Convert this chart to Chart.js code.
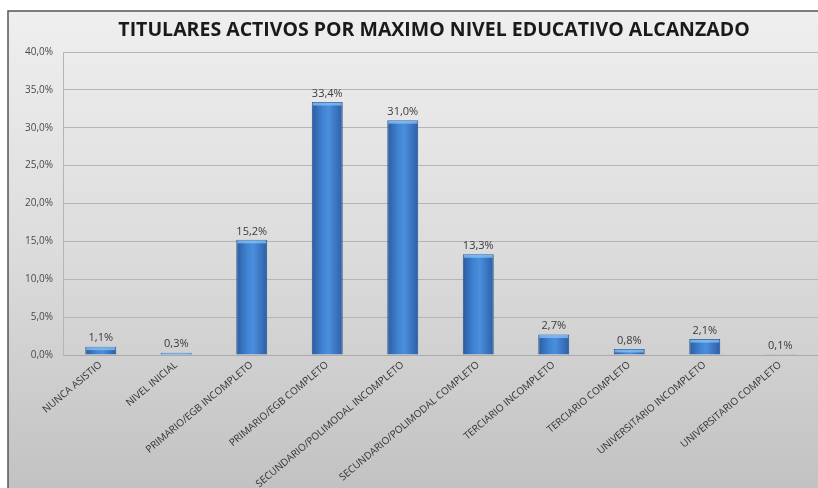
<!DOCTYPE html>
<html>
<head>
<meta charset="utf-8">
<script src="https://cdn.jsdelivr.net/npm/chart.js@4.4.1/dist/chart.umd.min.js"></script>
<style>
  html, body { margin: 0; padding: 0; background: #ffffff; }
  #wrap { width: 818px; height: 488px; }
</style>
</head>
<body>
<div id="wrap"><canvas id="nivel-chart" width="818" height="488"></canvas></div>
<script>
// Chart data
const chartTitle = 'TITULARES ACTIVOS POR MAXIMO NIVEL EDUCATIVO ALCANZADO';
const categories = ['NUNCA ASISTIO', 'NIVEL INICIAL', 'PRIMARIO/EGB INCOMPLETO', 'PRIMARIO/EGB COMPLETO',
  'SECUNDARIO/POLIMODAL INCOMPLETO', 'SECUNDARIO/POLIMODAL COMPLETO', 'TERCIARIO INCOMPLETO',
  'TERCIARIO COMPLETO', 'UNIVERSITARIO INCOMPLETO', 'UNIVERSITARIO COMPLETO'];
const percentages = [1.1, 0.3, 15.2, 33.4, 31.0, 13.3, 2.7, 0.8, 2.1, 0.1];
const yTicks = [0, 5, 10, 15, 20, 25, 30, 35, 40];

function fmtPct(v) {
  return v.toFixed(1).replace('.', ',') + '%';
}

// background panel + border, like the excel chart area
const panelPlugin = {
  id: 'panel',
  beforeDraw(chart) {
    const c = chart.ctx;
    c.save();
    const g = c.createLinearGradient(0, 11, 0, 488);
    g.addColorStop(0, '#efefef');
    g.addColorStop(0.5, '#dcdcdc');
    g.addColorStop(1, '#c2c2c2');
    c.fillStyle = g;
    c.fillRect(8, 11, 830, 490);
    c.strokeStyle = '#555555';
    c.lineWidth = 1.5;
    c.strokeRect(8, 11, 830, 490);
    c.restore();
  }
};

// title drawn by hand so it sits where the original has it
const titlePlugin = {
  id: 'bigTitle',
  afterDraw(chart) {
    const c = chart.ctx;
    c.save();
    c.font = 'bold 19.5px "Open Sans", sans-serif';
    c.fillStyle = '#1a1a1a';
    c.textAlign = 'center';
    c.textBaseline = 'middle';
    c.fillText(chartTitle, 434, 30);
    c.restore();
  }
};

// value labels on top of each bar, plus the light cap on the bars
const valueLabels = {
  id: 'valueLabels',
  afterDatasetsDraw(chart) {
    const c = chart.ctx;
    const meta = chart.getDatasetMeta(0);
    c.save();
    meta.data.forEach((bar) => {
      const h = Math.min(3, bar.base - bar.y);
      if (h <= 0) return;
      c.fillStyle = 'rgba(140, 195, 245, 0.75)';
      c.fillRect(bar.x - bar.width / 2 + 1, bar.y + 0.5, bar.width - 2, h);
    });
    c.font = '11px "Open Sans", sans-serif';
    c.fillStyle = '#3a3a3a';
    c.textAlign = 'center';
    c.textBaseline = 'bottom';
    meta.data.forEach((bar, i) => {
      c.fillText(fmtPct(percentages[i]), bar.x, bar.y - 3);
    });
    c.restore();
  }
};

function barFill(context) {
  const chart = context.chart;
  if (!chart.chartArea || !chart.scales.x) return '#3a78c8';
  const x = chart.scales.x.getPixelForValue(context.dataIndex);
  const half = 16;
  const g = chart.ctx.createLinearGradient(x - half, 0, x + half, 0);
  g.addColorStop(0, '#2a5a9e');
  g.addColorStop(0.35, '#3f83d2');
  g.addColorStop(0.55, '#4a8edc');
  g.addColorStop(1, '#2b5da3');
  return g;
}

const ctx = document.getElementById('nivel-chart').getContext('2d');
const nivelChart = new Chart(ctx, {
  type: 'bar',
  data: {
    labels: categories,
    datasets: [{
      label: 'Titulares',
      data: percentages,
      backgroundColor: barFill,
      borderColor: '#24508e',
      borderWidth: 1,
      barPercentage: 0.82,
      categoryPercentage: 0.5
    }]
  },
  options: {
    responsive: false,
    animation: false,
    layout: { padding: { top: 52, right: 0, left: 0, bottom: 0 } },
    plugins: {
      legend: { display: false },
      title: { display: false },
      tooltip: { enabled: false }
    },
    scales: {
      x: {
        grid: { display: false, drawTicks: false },
        border: { color: '#aaaaaa' },
        ticks: {
          autoSkip: false,
          maxRotation: 40,
          minRotation: 40,
          padding: 4,
          color: '#333333',
          font: { family: '"Open Sans", sans-serif', size: 10 }
        },
        afterFit(scale) { scale.height = 133; }
      },
      y: {
        min: 0,
        max: 40,
        afterBuildTicks(scale) { scale.ticks = yTicks.map(v => ({ value: v })); },
        grid: { color: '#b5b5b5', drawTicks: false },
        border: { color: '#b5b5b5' },
        ticks: {
          padding: 10,
          color: '#4a4a4a',
          font: { family: '"Open Sans", sans-serif', size: 10 },
          callback: v => fmtPct(v)
        },
        afterFit(scale) { scale.width = 63; }
      }
    }
  },
  plugins: [panelPlugin, valueLabels, titlePlugin]
});
</script>
</body>
</html>
